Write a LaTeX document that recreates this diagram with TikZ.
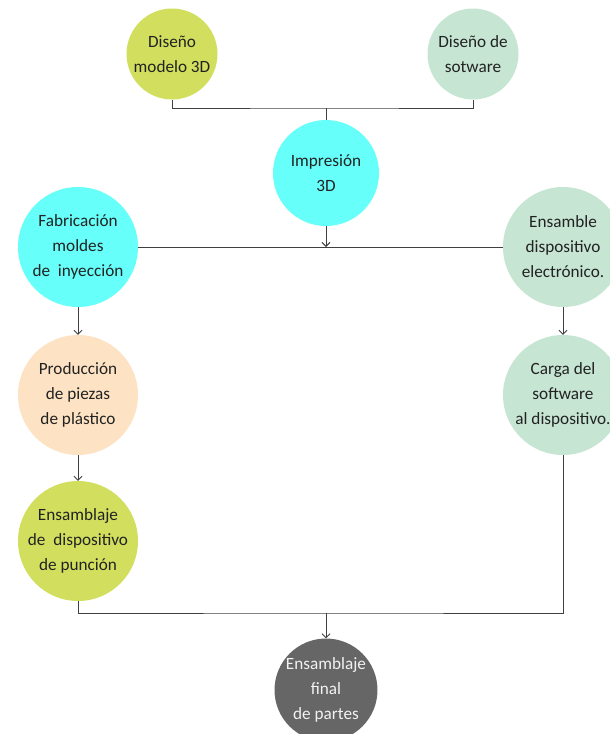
\documentclass[tikz,border=0pt]{standalone}
\usepackage{fontspec}
\setmainfont{Carlito}
\usetikzlibrary{arrows.meta}
\definecolor{cyel}{HTML}{D2DF5E}
\definecolor{cgrn}{HTML}{C6E5D3}
\definecolor{ccya}{HTML}{66FFFA}
\definecolor{cpch}{HTML}{FDE3C4}
\definecolor{cgry}{HTML}{666666}
\definecolor{ctxt}{HTML}{222222}
\definecolor{cline}{HTML}{404040}
\tikzset{
  x=1pt,y=-1pt,
  bubble/.style={circle,inner sep=0pt,align=center,text=ctxt,
    font=\fontsize{17.2}{25}\selectfont},
  small/.style={bubble,minimum size=91pt},
  mid/.style={bubble,minimum size=106pt},
  big/.style={bubble,minimum size=120pt},
  link/.style={draw=cline,line width=0.9pt},
  arr/.style={link,-{Straight Barb[length=4pt,width=8pt]}},
}
\begin{document}
\begin{tikzpicture}
\useasboundingbox (0,0) rectangle (610,734);
\node[small,fill=cyel] (d3d) at (172,54) {Diseño\\modelo 3D};
\node[small,fill=cgrn] (dsw) at (473,54) {Diseño de\\sotware};
\node[mid,fill=ccya] (imp) at (326,173) {Impresión\\3D};
\node[big,fill=ccya] (fab) at (78,247) {Fabricación\\moldes\\de\ \ inyección};
\node[big,fill=cgrn] (ens) at (563,247) {Ensamble\\dispositivo\\electrónico.};
\node[big,fill=cpch] (prod) at (78,395) {Producción\\de piezas\\de plástico};
\node[big,fill=cgrn] (carga) at (563,395) {Carga del\\software\\al dispositivo.};
\node[big,fill=cyel] (ensd) at (78,541) {Ensamblaje\\de\ \ dispositivo\\de punción};
\node[bubble,minimum size=98pt,fill=cgry,text=white!95!black] (fin) at (326,690) {Ensamblaje\\final\\de partes};
\coordinate (j1) at (326,108);
\coordinate (j2) at (326,613);
\draw[link] (d3d.south) |- (j1) -| (dsw.south);
\draw[link] (j1) -- (imp.north);
\draw[link] (fab.east) -- (ens.west);
\draw[arr] (imp.south) -- (imp.south |- fab.east);
\draw[arr] (fab) -- (prod);
\draw[arr] (prod) -- (ensd);
\draw[arr] (ens) -- (carga);
\draw[link] (ensd.south) |- (j2) -| (carga.south);
\draw[arr] (j2) -- (fin.north);
\end{tikzpicture}
\end{document}
